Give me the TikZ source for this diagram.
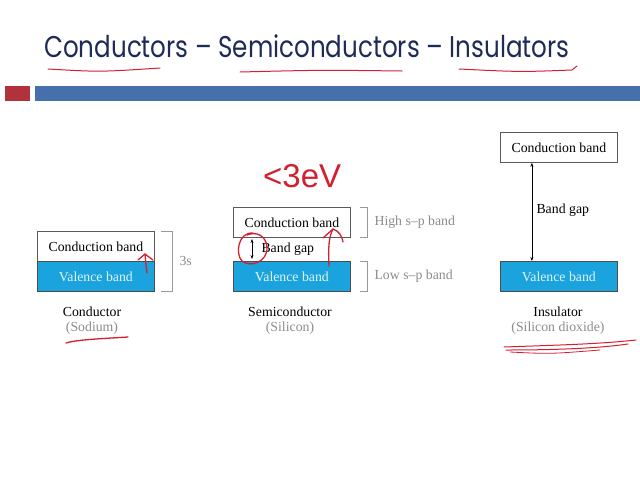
\documentclass[tikz,border=0pt]{standalone}
\usepackage{fontspec}
\setmainfont{Liberation Serif}
\newfontfamily\titlefont{Poppins}
\newfontfamily\handfont{Liberation Sans}
\usetikzlibrary{arrows.meta}
\definecolor{navy}{HTML}{1F2B57}
\definecolor{barred}{HTML}{B2323C}
\definecolor{barblue}{HTML}{4570AC}
\definecolor{cyanfill}{HTML}{1AA3DD}
\definecolor{ink}{HTML}{D41F30}
\definecolor{lab}{HTML}{8C8C8C}
\begin{document}
\begin{tikzpicture}[x=1pt,y=-1pt,
  txt/.style={font=\fontsize{13.8}{16}\selectfont},
  cband/.style={txt,draw=black!65,line width=0.8pt,fill=white,minimum width=117pt,minimum height=30pt,inner sep=0pt,anchor=north west},
  vband/.style={cband,fill=cyanfill,text=white!88!cyanfill,draw=black!70},
  matname/.style={txt,anchor=base},
  matsub/.style={txt,text=lab,anchor=base},
  side/.style={txt,text=lab,anchor=west},
  brk/.style={draw=black!40,line width=0.8pt},
  gaparrow/.style={draw=black,line width=0.6pt,{Stealth[length=4pt,width=3pt]}-{Stealth[length=4pt,width=3pt]}},
  hand/.style={draw=ink,line width=1.3pt,line cap=round,line join=round}]
\useasboundingbox (0,0) rectangle (640,480);
\fill[white] (0,0) rectangle (640,480);
% title
\node[font=\titlefont\fontsize{30}{32}\selectfont,text=navy,anchor=base west,inner sep=0pt] (title) at (44,57) {\scalebox{0.82}[1]{Conductors – Semiconductors – Insulators}};
\draw[hand,line width=1pt] (48,69) .. controls (100,72) .. (160,68);
\draw[hand,line width=1pt] (240,72) .. controls (320,70) .. (402,71);
\draw[hand,line width=1pt] (459,69) .. controls (520,72) .. (572,70) -- (577,66);
% bar
\fill[barred] (5,86) rectangle (30,101);
\fill[barblue] (35,86) rectangle (640,101);
% conductor
\node[cband] (cc) at (37,231) {Conduction band};
\node[vband] (cv) at (37,261) {Valence band};
\draw[brk] ([xshift=6pt]cc.north east) -- ([xshift=18pt]cc.north east) -- ([xshift=18pt]cv.south east) -- ([xshift=6pt]cv.south east);
\node[side] (c3s) at (176,261) {3s};
\node[matname] (cname) at (92,316) {Conductor};
\node[matsub] (csub) at (92,331) {(Sodium)};
\draw[hand] (147,273) .. controls (146,265) .. (145,254);
\draw[hand] (138,260) -- (145,254) -- (153,260);
\draw[hand] (128,337) .. controls (95,339) and (75,340) .. (66,343);
% semiconductor
\node[cband] (sc) at (233,207) {Conduction band};
\node[vband] (sv) at (233,261) {Valence band};
\draw[brk] ([xshift=9pt]sc.north east) -- ([xshift=17pt]sc.north east) -- ([xshift=17pt]sc.south east) -- ([xshift=9pt]sc.south east);
\draw[brk] ([xshift=9pt]sv.north east) -- ([xshift=17pt]sv.north east) -- ([xshift=17pt]sv.south east) -- ([xshift=9pt]sv.south east);
\node[side] (shigh) at (371,222) {High s–p band};
\node[side] (slow) at (371,276) {Low s–p band};
\coordinate (sga) at (252,239);
\coordinate (sgb) at (252,259);
\draw[gaparrow] (sga) -- (sgb);
\node[txt,anchor=west] (sgap) at (258,249) {Band gap};
\node[matname] (sname) at (290,316) {Semiconductor};
\node[matsub] (ssub) at (290,331) {(Silicon)};
\node[font=\handfont\fontsize{33}{35}\selectfont,text=ink,anchor=base west,inner sep=0pt] (lt) at (263,187) {<3eV};
\draw[hand] (253,233) .. controls (238,232) and (235,254) .. (242,261) .. controls (250,268) and (268,262) .. (267,247) .. controls (266,236) and (257,231) .. (247,235);
\draw[hand] (329,266) .. controls (328,248) and (329,236) .. (333,229);
\draw[hand] (323,238) -- (333,229) .. controls (339,231) and (342,236) .. (343,242);
% insulator
\node[cband] (ic) at (500,132) {Conduction band};
\node[vband] (iv) at (500,261) {Valence band};
\draw[gaparrow] ([xshift=-27pt]ic.south) -- ([xshift=-27pt]iv.north);
\node[txt,anchor=west] (igap) at (533,210) {Band gap};
\node[matname] (iname) at (558,316) {Insulator};
\node[matsub] (isub) at (558,331) {(Silicon dioxide)};
\draw[hand,line width=1pt] (504,347) .. controls (560,345) and (600,344) .. (636,340);
\draw[hand,line width=1pt] (506,350) .. controls (560,350) and (600,348) .. (628,344);
\draw[hand,line width=0.8pt] (510,352) .. controls (550,354) .. (600,350);
\end{tikzpicture}
\end{document}
